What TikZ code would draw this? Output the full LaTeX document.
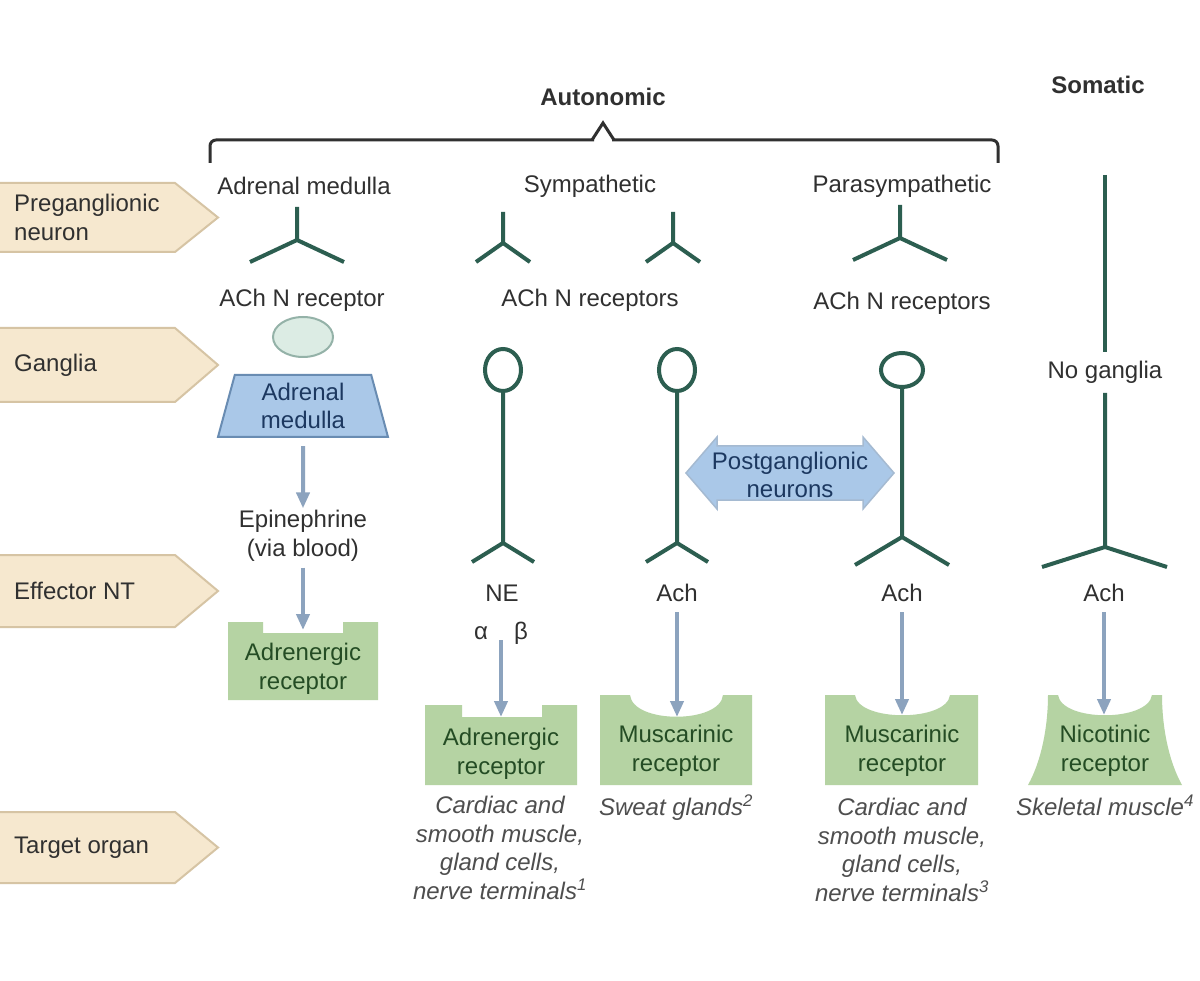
\documentclass[tikz,border=0pt]{standalone}
\usepackage{fontspec}
\setmainfont{Liberation Sans}
\usepackage{tikz}
\usetikzlibrary{arrows.meta, positioning, calc, shapes.geometric}

\definecolor{tanfill}{RGB}{246,232,207}
\definecolor{tanline}{RGB}{214,196,164}
\definecolor{nerve}{RGB}{44,94,80}
\definecolor{rcpgreen}{RGB}{181,211,163}
\definecolor{rcptext}{RGB}{36,76,36}
\definecolor{medblue}{RGB}{170,200,232}
\definecolor{medline}{RGB}{105,140,178}
\definecolor{medtext}{RGB}{28,56,96}
\definecolor{ellfill}{RGB}{220,236,228}
\definecolor{ellline}{RGB}{148,178,168}
\definecolor{arrblue}{RGB}{140,163,190}
\definecolor{txtgray}{RGB}{48,48,48}
\definecolor{orggray}{RGB}{78,78,78}

\begin{document}
\begin{tikzpicture}[
  x=1pt, y=-1pt,
  txt/.style={font=\fontsize{24}{28.5}\selectfont, text=txtgray, align=center, inner sep=0pt},
  bold/.style={txt, font=\fontsize{24}{28.5}\selectfont\bfseries},
  rowtxt/.style={txt, align=left},
  orgtxt/.style={txt, text=orggray, font=\fontsize{24}{28.7}\selectfont\itshape},
  rcptxt/.style={txt, text=rcptext},
  rowbox/.style={fill=tanfill, draw=tanline, line width=2pt},
  rcp/.style={fill=rcpgreen},
  nrv/.style={draw=nerve, line width=4pt},
  garrow/.style={draw=arrblue, line width=4pt, -{Triangle[width=13pt, length=16pt]}},
]

\fill[white] (0,0) rectangle (1200,981);
\useasboundingbox (0,0) rectangle (1200,981);

% --- Row labels (left) ---
\foreach \ya/\yb/\nm/\lbl in {183/252/pre/{Preganglionic\\neuron}, 328/402/gan/Ganglia,
    555/627/eff/Effector NT, 812/883/tgt/Target organ} {
  \filldraw[rowbox] (-2,\ya) -- (175,\ya) -- (218,{(\ya+\yb)/2}) -- (175,\yb) -- (-2,\yb) -- cycle;
  \node[rowtxt, anchor=west] (\nm) at (14,{(\ya+\yb)/2}) {\lbl};
}

% --- Headings and brace ---
\node[bold] (auto) at (603,97) {Autonomic};
\node[bold] (soma) at (1098,85) {Somatic};
\draw[txtgray, line width=3pt, rounded corners=6pt] (210,163) -- (210,140) -- (594,140);
\draw[txtgray, line width=3pt, rounded corners=6pt] (612,140) -- (998,140) -- (998,163);
\draw[txtgray, line width=3pt, line join=miter] (592,140) -- (603,123) -- (614,140);

\node[txt] (hAdr) at (304,186) {Adrenal medulla};
\node[txt] (hSym) at (590,186) {Sympathetic};
\node[txt] (hPar) at (902,186) {Parasympathetic};

% --- Preganglionic endings ---
\foreach \x/\ya/\yj/\w/\yb in {297/207/240/47/262, 503/212/243/27/262, 673/212/243/27/262, 900/205/238/47/260} {
  \draw[nrv] (\x,\ya) -- (\x,\yj) (\x-\w,\yb) -- (\x,\yj) -- (\x+\w,\yb);
}

\node[txt] (nAdr) at (302,300) {ACh N receptor};
\node[txt] (nSym) at (590,300) {ACh N receptors};
\node[txt] (nPar) at (902,303) {ACh N receptors};

% --- Adrenal medulla column ---
\node[ellipse, draw=ellline, fill=ellfill, line width=2pt, minimum width=60pt, minimum height=40pt] (gAdr) at (303,337) {};
\node[trapezium, trapezium left angle=70, trapezium right angle=70, trapezium stretches body,
  draw=medline, fill=medblue, line width=2pt, minimum width=170pt, minimum height=62pt,
  txt, text=medtext] (med) at (303,406) {Adrenal\\medulla};
\node[txt] (epi) at (303,536) {Epinephrine\\(via blood)};

\fill[rcp] (228,622) -- (263,622) -- (263,633) -- (343,633) -- (343,622) -- (378,622) -- (378,700) -- (228,700) -- cycle;
\coordinate (adrA) at (303,630);
\node[rcptxt] (rAdr) at (303,669) {Adrenergic\\receptor};

\draw[garrow, shorten <=8pt, shorten >=2pt] (med) -- (epi);
\draw[garrow, shorten <=6pt] (epi) -- (adrA);

% --- Postganglionic neurons ---
\foreach \x/\rx/\ry/\yj/\w/\yb in {503/18/21/543/31/562, 677/18/21/543/31/562, 902/21/17/537/47/565} {
  \draw[nrv] (\x,370) ellipse [x radius=\rx pt, y radius=\ry pt];
  \draw[nrv] (\x,370+\ry) -- (\x,\yj) (\x-\w,\yb) -- (\x,\yj) -- (\x+\w,\yb);
}
\filldraw[fill=medblue, draw=medline!60, line width=1.5pt]
  (686,473) -- (717,437) -- (717,446) -- (863,446) -- (863,437) -- (894,473)
  -- (863,509) -- (863,500) -- (717,500) -- (717,509) -- cycle;
\node[txt, text=medtext] (post) at (790,475) {Postganglionic\\neurons};

% --- Somatic ---
\node[txt] (noG) at (1105,372) {No ganglia};
\draw[nrv] (1105,175) -- (1105,352);
\draw[nrv] (1105,393) -- (1105,547) (1042,567) -- (1105,547) -- (1167,567);

% --- Effector NT ---
\node[txt] (ne) at (502,593) {NE};
\node[txt] (achS) at (677,593) {Ach};
\node[txt] (achP) at (902,593) {Ach};
\node[txt] (achN) at (1104,593) {Ach};
\node[txt] (alf) at (481,633) {α};
\node[txt] (bet) at (521,633) {β};
\coordinate (neTop) at (501,640);

% --- Receptors ---
\fill[rcp] (425,705) -- (462,705) -- (462,717) -- (542,717) -- (542,705) -- (577,705) -- (577,785) -- (425,785) -- cycle;
\coordinate (symA) at (501,717);
\node[rcptxt] (rSym) at (501,754) {Adrenergic\\receptor};

\fill[rcp] (600,695) -- (630,695) .. controls (633,724) and (720,724) .. (723,695) -- (752,695) -- (752,785) -- (600,785) -- cycle;
\coordinate (symM) at (677,717);
\node[rcptxt] (rMus) at (676,751) {Muscarinic\\receptor};

\fill[rcp] (825,695) -- (855,695) .. controls (858,722) and (947,722) .. (950,695) -- (978,695) -- (978,785) -- (825,785) -- cycle;
\coordinate (parM) at (902,715);
\node[rcptxt] (rPar) at (902,751) {Muscarinic\\receptor};

\fill[rcp] (1028,785) .. controls (1042,760) and (1048,725) .. (1048,695) -- (1058,695)
  .. controls (1062,722) and (1148,722) .. (1152,695) -- (1162,695)
  .. controls (1162,725) and (1168,760) .. (1182,785) -- cycle;
\coordinate (somN) at (1104,715);
\node[rcptxt] (rNic) at (1105,751) {Nicotinic\\receptor};

\draw[garrow] (neTop) -- (symA);
\draw[garrow, shorten <=10pt] (achS) -- (symM);
\draw[garrow, shorten <=10pt] (achP) -- (parM);
\draw[garrow, shorten <=10pt] (achN) -- (somN);

% --- Target organs ---
\node[orgtxt] (oSym) at (500,848) {Cardiac and\\smooth muscle,\\gland cells,\\nerve terminals\textsuperscript{1}};
\node[orgtxt] (oSwt) at (676,808) {Sweat glands\textsuperscript{2}};
\node[orgtxt] (oPar) at (902,850) {Cardiac and\\smooth muscle,\\gland cells,\\nerve terminals\textsuperscript{3}};
\node[orgtxt] (oSkl) at (1105,805) {Skeletal muscle\textsuperscript{4}};

\end{tikzpicture}
\end{document}
